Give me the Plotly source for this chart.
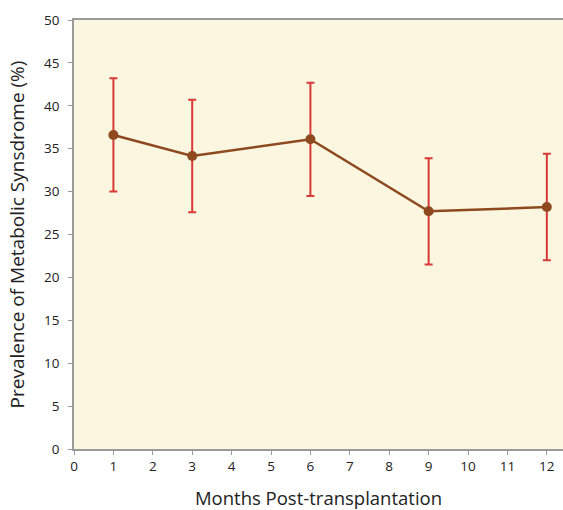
import plotly.graph_objects as go

months = [1, 3, 6, 9, 12]
prevalence = [36.6, 34.15, 36.1, 27.7, 28.2]
err_plus = [6.6, 6.55, 6.6, 6.2, 6.2]
err_minus = [6.6, 6.55, 6.6, 6.2, 6.2]
x_ticks = list(range(0, 13))
y_ticks = list(range(0, 51, 5))

fig = go.Figure()
fig.add_trace(go.Scatter(
    x=months, y=prevalence, mode="lines+markers",
    line=dict(color="#8E4A1E", width=2.5),
    marker=dict(color="#8E4A1E", size=10),
    error_y=dict(type="data", symmetric=False, array=err_plus, arrayminus=err_minus,
                 color="#D93A36", thickness=2, width=4),
    showlegend=False,
))

font = "'Open Sans', Lato, sans-serif"
fig.update_layout(
    width=563, height=510,
    margin=dict(l=74, r=0, t=20, b=61),
    paper_bgcolor="white",
    plot_bgcolor="#FAF6E0",
    font=dict(family=font, color="#222222", size=13.5),
)
fig.update_xaxes(
    range=[0, 12.41], tickvals=x_ticks, ticktext=[str(v) for v in x_ticks],
    showgrid=False, zeroline=False, showline=True, linecolor="#9A9A9A", linewidth=1.5,
    mirror=True, ticks="outside", ticklen=4, tickcolor="#9A9A9A", automargin=False,
    tickfont=dict(size=13.5, family=font),
    title=dict(text="Months Post-transplantation", font=dict(size=18.5, family=font), standoff=32),
)
fig.update_yaxes(
    range=[0, 50], tickvals=y_ticks, ticktext=[str(v) for v in y_ticks],
    showgrid=False, zeroline=False, showline=True, linecolor="#9A9A9A", linewidth=1.5,
    ticks="outside", ticklen=4, tickcolor="#9A9A9A", ticklabelstandoff=6, automargin=False,
    tickfont=dict(size=13.5, family=font),
    title=dict(text="Prevalence of Metabolic Synsdrome (%)", font=dict(size=19, family=font), standoff=14),
)
fig.write_html(
    "out.html",
    config={"displayModeBar": False},
    post_script="document.body.style.margin='0';document.body.style.overflow='hidden';",
)
